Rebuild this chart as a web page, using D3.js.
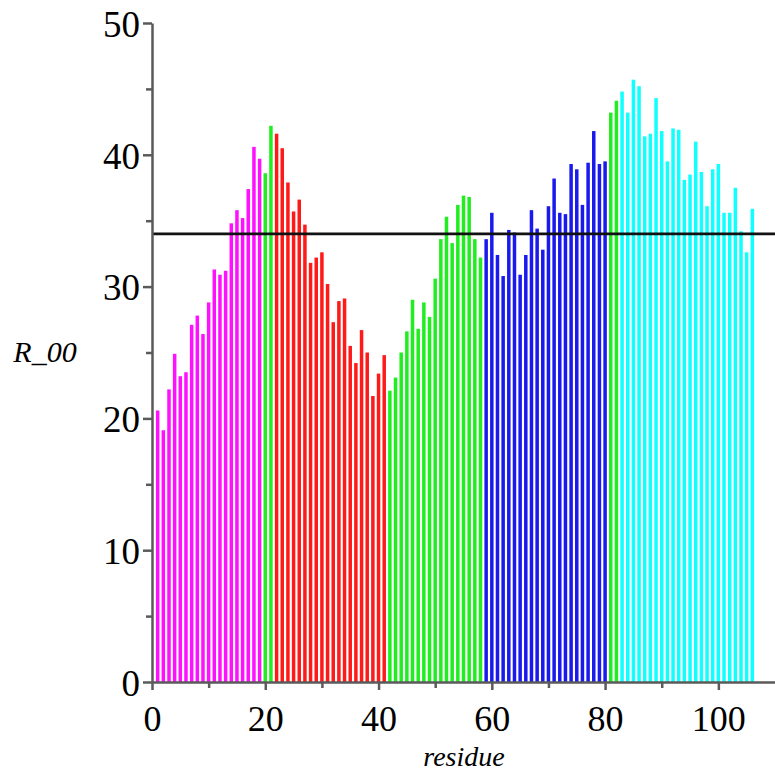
<!DOCTYPE html>
<html>
<head>
<meta charset="utf-8">
<script src="https://cdn.jsdelivr.net/npm/d3@7/dist/d3.min.js"></script>
<style>
  html, body { margin: 0; padding: 0; background: #fff; }
  svg { display: block; }
</style>
</head>
<body>
<svg id="chart" width="775" height="772"></svg>
<script>
// ---- data ----
const residues = d3.range(1, 107);
const r00 = [
  20.6, 19.1, 22.2, 24.9, 23.2, 23.5, 27.1, 27.8, 26.4, 28.8,
  31.3, 30.9, 31.2, 34.8, 35.8, 35.2, 37.4, 40.6, 39.7, 38.6,
  42.2, 41.6, 40.5, 37.9, 35.7, 36.6, 34.7, 31.8, 32.2, 32.6,
  30.2, 27.3, 28.9, 29.1, 25.5, 24.2, 26.7, 25.0, 21.7, 23.4,
  24.8, 22.1, 23.1, 25.0, 26.6, 29.0, 26.8, 28.8, 27.7, 30.6,
  33.6, 35.3, 33.3, 36.2, 36.9, 36.8, 33.6, 32.2, 33.6, 35.6,
  32.4, 30.8, 34.3, 34.1, 30.9, 32.4, 35.8, 34.4, 32.8, 36.1,
  38.2, 35.6, 35.5, 39.3, 38.9, 36.2, 39.4, 41.8, 39.3, 39.5,
  43.2, 44.1, 44.8, 43.2, 45.7, 45.2, 41.4, 41.6, 44.3, 41.8,
  39.5, 42.0, 41.9, 38.1, 38.5, 41.0, 38.7, 36.1, 38.9, 39.3,
  35.6, 35.6, 37.5, 34.2, 32.6, 35.9
];
// segments: first residue of each coloured segment
const segStarts = [1, 20, 22, 42, 59, 81, 83];
const segColors = ["#ff10ff", "#20ee20", "#ff1a1a", "#20ee20", "#1a1aee", "#20ee20", "#10ffff"];
const threshold = 34;
const xTicks = [0, 20, 40, 60, 80, 100];
const xMinor = [10, 30, 50, 70, 90];
const yTicks = [0, 10, 20, 30, 40, 50];
const yMinor = [5, 15, 25, 35, 45];

function colorOf(r) {
  let c = segColors[0];
  segStarts.forEach((s, i) => { if (r >= s) c = segColors[i]; });
  return c;
}

// ---- scales ----
const x = d3.scaleLinear().domain([0, 110]).range([152, 775]);
const y = d3.scaleLinear().domain([0, 50]).range([682, 23]);

const svg = d3.select("#chart");
const axisColor = "#5a5a5a";
const font = "'Liberation Serif', 'Times New Roman', serif";

// bars
const bw = 3.5;
svg.append("g").selectAll("rect").data(residues).join("rect")
  .attr("x", d => x(d) - bw / 2)
  .attr("y", (d, i) => y(r00[i]))
  .attr("width", bw)
  .attr("height", (d, i) => y(0) - y(r00[i]))
  .attr("fill", d => colorOf(d));

// threshold line
svg.append("line")
  .attr("x1", x(0)).attr("x2", 775)
  .attr("y1", y(threshold)).attr("y2", y(threshold))
  .attr("stroke", "#111").attr("stroke-width", 2.8);

// y axis
const gy = svg.append("g").attr("transform", `translate(${x(0)},0)`);
gy.call(d3.axisLeft(y).tickValues(yTicks).tickSize(9).tickSizeOuter(0).tickFormat(d3.format("d")));
const gyMinor = svg.append("g").attr("transform", `translate(${x(0)},0)`);
gyMinor.call(d3.axisLeft(y).tickValues(yMinor).tickSize(6).tickSizeOuter(0).tickFormat(""));
gyMinor.select(".domain").remove();

// x axis
const gx = svg.append("g").attr("transform", `translate(0,${y(0)})`);
gx.call(d3.axisBottom(x).tickValues(xTicks).tickSize(8).tickSizeOuter(0).tickFormat(d3.format("d")));
const gxMinor = svg.append("g").attr("transform", `translate(0,${y(0)})`);
gxMinor.call(d3.axisBottom(x).tickValues(xMinor).tickSize(6).tickSizeOuter(0).tickFormat(""));
gxMinor.select(".domain").remove();

svg.selectAll(".domain").attr("stroke", axisColor).attr("stroke-width", 2.5);
svg.selectAll(".tick line").attr("stroke", axisColor).attr("stroke-width", 2.5);

gy.selectAll(".tick text")
  .attr("x", -12).attr("dy", "0.36em")
  .attr("font-family", font).attr("font-size", 37).attr("fill", "#000");
gx.selectAll(".tick text")
  .attr("y", 23).attr("dy", "0.71em")
  .attr("font-family", font).attr("font-size", 36).attr("fill", "#000");

// axis titles
svg.append("text")
  .attr("x", 45).attr("y", 362)
  .attr("text-anchor", "middle")
  .attr("font-family", font).attr("font-style", "italic").attr("font-size", 30)
  .text("R_00");
svg.append("text")
  .attr("x", 464).attr("y", 766)
  .attr("text-anchor", "middle")
  .attr("font-family", font).attr("font-style", "italic").attr("font-size", 28)
  .text("residue");
</script>
</body>
</html>
